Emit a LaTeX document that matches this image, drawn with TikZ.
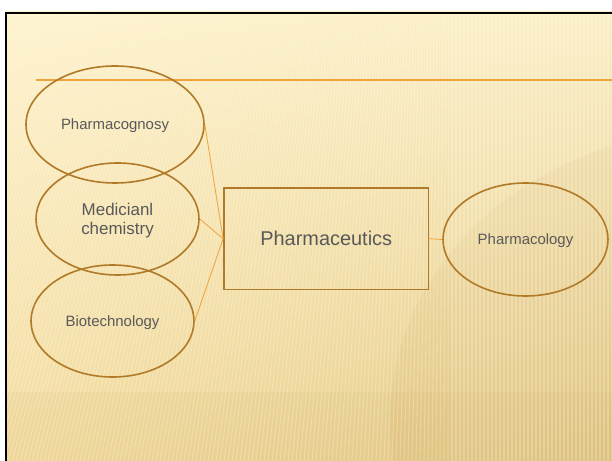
\documentclass[tikz,border=0pt]{standalone}
\usepackage{fontspec}
\setmainfont{Liberation Sans}
\usetikzlibrary{shapes.geometric,shadings}

\definecolor{slideLight}{HTML}{FEF2CC}
\definecolor{slideLightR}{HTML}{FBEEC4}
\definecolor{slideDarkL}{HTML}{F3DCA0}
\definecolor{slideDarkR}{HTML}{E3C985}
\definecolor{ringBrown}{HTML}{B07A28}
\definecolor{linkOrange}{HTML}{F2A23A}
\definecolor{textGray}{HTML}{595959}

\tikzset{
  topic/.style={ellipse, draw=ringBrown, line width=1.6bp, inner sep=0pt,
    text=textGray, font=\fontsize{15}{18}\selectfont, align=center, text depth=0pt},
  corebox/.style={rectangle, draw=ringBrown, line width=1.8bp, inner sep=0pt,
    text=textGray, font=\fontsize{20}{24}\selectfont},
  link/.style={draw=linkOrange, line width=0.8bp},
  stripe/.style={white, opacity=0.24, line width=1.1bp}
}

\begin{document}
\begin{tikzpicture}[x=1bp, y=-1bp]
  \useasboundingbox (0,0) rectangle (612,461);
  \fill[white] (0,0) rectangle (612,461);

  % slide background with soft stripes
  \begin{scope}
    \clip (5,12) rectangle (612,461);
    \shade[upper left=slideLight, upper right=slideLightR,
           lower left=slideDarkL, lower right=slideDarkR]
      (5,12) rectangle (612,461);
    % darker sweep on the right and along the bottom
    \fill[ringBrown, opacity=0.06] (720,420) ellipse (330 and 290);
    \fill[ringBrown, opacity=0.05] (5,392) rectangle (612,461);
    \foreach \xb in {-200,-196,...,620} {
      \pgfmathsetmacro{\xt}{\xb < 450 ? 0.72*\xb + 126 : \xb}
      \draw[stripe] (\xb,461) -- (\xt,12);
    }
  \end{scope}

  % slide frame (left and top edges)
  \draw[black, line width=2.2bp] (6,461) -- (6,13) -- (612,13);

  % title rule
  \draw[linkOrange, line width=1.6bp] (36,80) -- (612,80);

  % topics
  \node[topic, minimum width=178bp, minimum height=117bp] (pcog) at (115,124.5) {Pharmacognosy};
  \node[topic, minimum width=163bp, minimum height=112bp,
        font=\fontsize{17}{19.5}\selectfont] (medc) at (117.5,219) {Medicianl\\chemistry};
  \node[topic, minimum width=163bp, minimum height=112bp] (biot) at (112.5,321) {Biotechnology};
  \node[corebox, minimum width=204.5bp, minimum height=101.5bp] (core) at (326.25,238.75) {Pharmaceutics};
  \node[topic, minimum width=165bp, minimum height=113bp] (pcol) at (525.5,239.5) {Pharmacology};

  % connectors
  \draw[link] (pcog.east) -- (core.west);
  \draw[link] (medc.east) -- (core.west);
  \draw[link] (biot.east) -- (core.west);
  \draw[link] (core.east) -- (pcol.west);
\end{tikzpicture}
\end{document}
